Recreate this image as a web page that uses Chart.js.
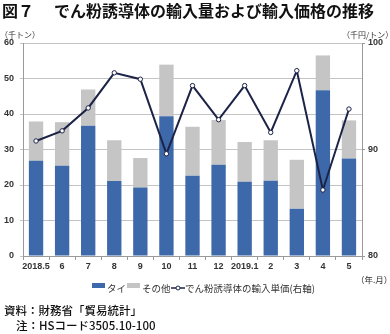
<!DOCTYPE html>
<html lang="ja">
<head>
<meta charset="utf-8">
<script src="https://cdn.jsdelivr.net/npm/chart.js@4/dist/chart.umd.min.js"></script>
<style>
  html, body { margin:0; padding:0; background:#fff; }
  #wrap { position:relative; width:390px; height:334px; overflow:hidden;
          font-family:"Noto Sans CJK JP", "Noto Sans", sans-serif; color:#222; }
  #chart { position:absolute; left:0; top:0; }
  .t { position:absolute; white-space:nowrap; line-height:1; }
  .title { font-size:16px; font-weight:bold; color:#111; top:2px; }
  .unit { font-size:8px; color:#333; top:31px; }
  .note { font-size:11.5px; color:#111; font-weight:500; }
  #legend { position:absolute; top:283px; left:92px; height:10px; font-size:9.5px; color:#333; }
  #legend span { position:absolute; top:0; white-space:nowrap; line-height:10px; }
  .box { display:block; position:absolute; height:5px; width:13px; top:3px; }
</style>
</head>
<body>
<div id="wrap">
  <canvas id="chart" width="390" height="334"></canvas>
  <div class="t title" style="left:2px">図７</div>
  <div class="t title" style="left:54px">でん粉誘導体の輸入量および輸入価格の推移</div>
  <div class="t unit" style="left:0px">（千トン）</div>
  <div class="t unit" style="left:342px">（千円/トン）</div>
  <div class="t unit" style="left:356px;top:275px;font-size:8.5px">（年.月）</div>
  <div id="legend"></div>
  <div class="t note" style="left:4px;top:305px">資料：財務省「貿易統計」</div>
  <div class="t note" style="left:16px;top:320px">注：HSコード3505.10-100</div>
</div>
<script>
const months = ["2018.5","6","7","8","9","10","11","12","2019.1","2","3","4","5"];
const thai   = [26.8, 25.4, 36.7, 21.1, 19.3, 39.4, 22.6, 25.7, 20.9, 21.2, 13.3, 46.7, 27.5];
const others = [11.1, 12.3, 10.2, 11.5,  8.3, 14.5, 13.8, 12.6, 11.2, 11.4, 13.8,  9.8, 10.7];
const unitPrice = [90.8, 91.75, 93.9, 97.2, 96.6, 89.6, 96.0, 92.8, 96.0, 91.6, 97.4, 86.2, 93.8];

const BLUE = "#3d68a9", GRAY = "#c5c5c5", NAVY = "#1c2347";
const tickFont = { family: "'Liberation Sans', Arial, sans-serif", size: 9, weight: "bold" };

function buildLegend(){
  const lg = document.getElementById("legend");
  lg.innerHTML =
    '<span class="box" style="left:0;background:' + BLUE + '"></span>' +
    '<span style="left:15px">タイ</span>' +
    '<span class="box" style="left:35px;background:' + GRAY + '"></span>' +
    '<span style="left:50px">その他</span>' +
    '<span style="left:79px;top:0"><svg width="14" height="10"><line x1="0" y1="5" x2="14" y2="5" stroke="' + NAVY + '" stroke-width="1.5"/><circle cx="7" cy="5" r="2" fill="#fff" stroke="' + NAVY + '" stroke-width="1"/></svg></span>' +
    '<span style="left:93px">でん粉誘導体の輸入単価(右軸)</span>';
}

function makeChart(){
  return new Chart(document.getElementById("chart"), {
    type: "bar",
    data: {
      labels: months,
      datasets: [
        { type:"line", label:"でん粉誘導体の輸入単価(右軸)", data: unitPrice, yAxisID:"y1",
          borderColor: NAVY, borderWidth: 2, tension: 0,
          pointRadius: 2.2, pointBackgroundColor:"#fff", pointBorderColor: NAVY, pointBorderWidth: 1,
          order: 0 },
        { label:"タイ", data: thai, backgroundColor: BLUE, yAxisID:"y", stack:"s", order: 1 },
        { label:"その他", data: others, backgroundColor: GRAY, yAxisID:"y", stack:"s", order: 1 }
      ]
    },
    options: {
      responsive: false,
      animation: false,
      layout: { padding: { top: 43, left: 0, right: 0, bottom: 58 } },
      datasets: { bar: { barPercentage: 0.55, categoryPercentage: 1 } },
      plugins: { legend: { display: false }, tooltip: { enabled: false }, title: { display: false } },
      scales: {
        x: {
          stacked: true,
          offset: true,
          grid: { offset: true, drawOnChartArea: false, drawTicks: true, tickLength: 4, color: "#9a9a9a" },
          border: { color: "#9a9a9a" },
          ticks: { font: tickFont, color: "#333", padding: 1, maxRotation: 0, autoSkip: false },
          afterFit: s => { s.height = 20; }
        },
        y: {
          stacked: true,
          min: 0, max: 60,
          ticks: { stepSize: 10, font: tickFont, color: "#333", padding: 6 },
          grid: { color: "#c4c4c4", tickLength: 3 },
          border: { color: "#9a9a9a" },
          afterFit: s => { s.width = 23; }
        },
        y1: {
          position: "right",
          min: 80, max: 100,
          ticks: { stepSize: 10, font: tickFont, color: "#333", padding: 3 },
          grid: { drawOnChartArea: false, tickLength: 3, color: "#9a9a9a" },
          border: { color: "#9a9a9a" },
          afterFit: s => { s.width = 28; }
        }
      }
    }
  });
}

buildLegend();
makeChart();
</script>
</body>
</html>
